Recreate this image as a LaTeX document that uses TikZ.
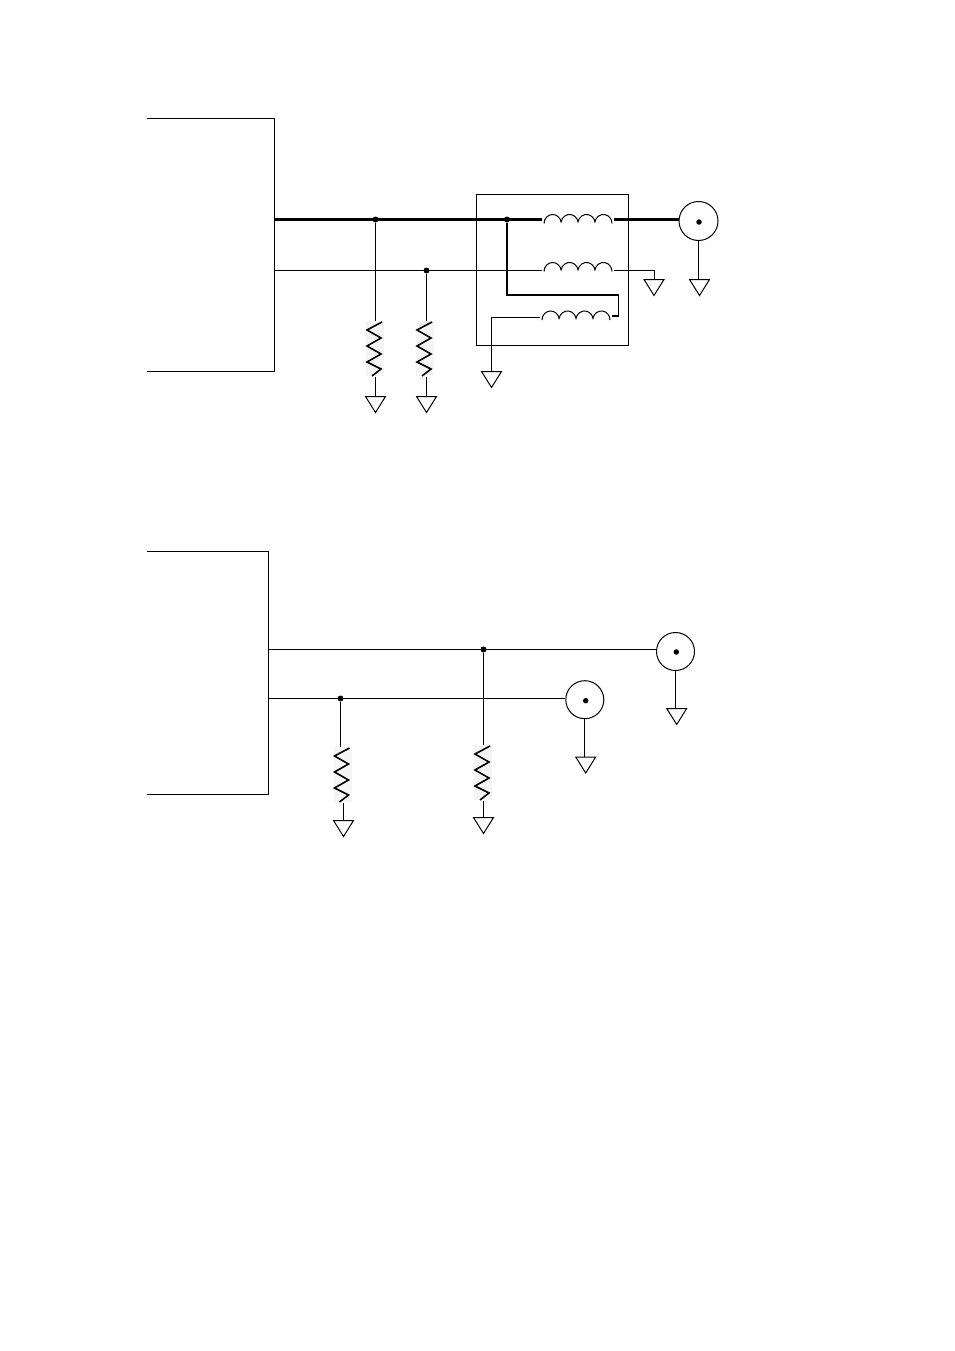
\documentclass[tikz,border=0pt]{standalone}
\usetikzlibrary{positioning}
\usetikzlibrary{shapes.geometric}
\tikzstyle{wire}=[line width=1pt]
\tikzstyle{thickwire}=[line width=2.4pt]
\tikzstyle{junction}=[circle,fill=black,minimum size=6pt,inner sep=0pt]
\tikzstyle{coax}=[circle,draw,line width=1pt,minimum size=38pt,inner sep=0pt]
\tikzstyle{gnd}=[isosceles triangle,isosceles triangle stretches,shape border rotate=-90,draw,line width=1pt,minimum width=20pt,minimum height=16pt,inner sep=0pt,anchor=lower side]
\tikzset{
  resistor/.pic={
    \fill[black!4] (-9,-1) rectangle (9,54);
    \draw[line width=1.6pt] (7,0) -- (-8,8) -- (6,16) -- (-8,24) -- (6,32) -- (-8,40) -- (6,47) -- (-3,54);
    \coordinate (-top) at (0,-1);
    \coordinate (-bot) at (0,55);
  },
  coil/.pic={
    \draw[line width=1pt] (0,0) arc (180:10:8.6pt and 9pt) arc (170:10:8.6pt and 9pt) arc (170:10:8.6pt and 9pt) arc (170:0:8.6pt and 9pt);
    \coordinate (-left) at (-2,-3);
    \coordinate (-right) at (70,-4);
  }
}

\begin{document}
\begin{tikzpicture}[x=1pt,y=-1pt]

   \useasboundingbox (0,0) rectangle (954,1351);

%  top circuit
   \coordinate (boxa1) at (147,118.5);
   \coordinate (boxa2) at (274.5,118.5);
   \coordinate (boxa3) at (274.5,371);
   \coordinate (boxa4) at (147,371);
   \draw[wire] (boxa1) -- (boxa2) -- (boxa3) -- (boxa4);

   \coordinate (balunnw) at (476.5,194.5);
   \coordinate (balunse) at (628,345.5);
   \draw[wire] (balunnw) rectangle (balunse);
   \draw[line width=1.8pt] (balunnw |- balunse) -- (balunse);

   \coordinate (outa) at (274,219.5);
   \coordinate (outb) at (274,270.5);

   \pic (ra) at (375,322) {resistor};
   \pic (rb) at (425,322) {resistor};

   \pic (la) at (544,223.5) {coil};
   \pic (lb) at (544,271.5) {coil};
   \pic (lc) at (542,320) {coil};

   \foreach \pos/\name in {{(375.5,219.5)/ja}, {(426.5,270.5)/jb}, {(507,219.5)/jc}}
        \node[junction] (\name) at \pos {};

   \node[coax,minimum size=39pt] (coaxa) at (698.5,221) {};
   \node[junction,minimum size=5.5pt] (pina) at (699,222) {};

   \foreach \pos/\name in {{(375.5,396)/ga}, {(426.5,396)/gb}, {(491.5,371)/gc}, {(654,279)/gd}, {(699.5,279)/ge}}
        \node[gnd] (\name) at \pos {};

   \draw[thickwire] (outa) -- (jc.center) -- (jc -| la-left);
   \draw[thickwire] (la-right) -- (coaxa.west |- la-right);
   \draw[wire] (outb) -- (jb.center) -- (jb -| lb-left);
   \draw[wire] (lb-right |- jb) -| (gd.lower side);
   \draw[wire] (ja) -- (ja |- ra-top);
   \draw[wire] (jb) -- (jb |- rb-top);
   \draw[wire] (ga |- ra-bot) -- (ga.lower side);
   \draw[wire] (gb |- rb-bot) -- (gb.lower side);
   \draw[line width=1.2pt] (jc) |- (618.5,295) |- (lc-right);
   \draw[wire] (lc-left) -| (gc.lower side);
   \draw[wire] (coaxa.south) -- (coaxa.south |- ge.lower side);

%  bottom circuit
   \coordinate (boxb1) at (147,551);
   \coordinate (boxb2) at (268.5,551);
   \coordinate (boxb3) at (268.5,794);
   \coordinate (boxb4) at (147,794);
   \draw[wire] (boxb1) -- (boxb2) -- (boxb3) -- (boxb4);

   \coordinate (outc) at (268.5,649.5);
   \coordinate (outd) at (268.5,698.5);

   \pic (rc) at (342.5,748) {resistor};
   \pic (rd) at (483,746) {resistor};

   \foreach \pos/\name in {{(483.5,649.5)/jd}, {(340.5,698.5)/je}}
        \node[junction] (\name) at \pos {};

   \node[coax] (coaxb) at (675.5,651.5) {};
   \node[junction,minimum size=5.5pt] (pinb) at (676.3,652) {};
   \node[coax] (coaxc) at (584.8,699.7) {};
   \node[junction,minimum size=5.5pt] (pinc) at (585.7,700.7) {};

   \foreach \pos/\name in {{(343.5,820)/gf}, {(483.5,817)/gg}, {(585.7,756.5)/gh}, {(676.7,708)/gi}}
        \node[gnd] (\name) at \pos {};

   \draw[wire] (outc) -- (jd.center) -- (jd -| coaxb.west);
   \draw[wire] (outd) -- (je.center) -- (je -| coaxc.west);
   \draw[wire] (jd) -- (jd |- rd-top);
   \draw[wire] (je) -- (je |- rc-top);
   \draw[wire] (gf |- rc-bot) -- (gf.lower side);
   \draw[wire] (gg |- rd-bot) -- (gg.lower side);
   \draw[wire] (coaxc.south) -- (coaxc.south |- gh.lower side);
   \draw[wire] (coaxb.south) -- (coaxb.south |- gi.lower side);

\end{tikzpicture}
\end{document}
